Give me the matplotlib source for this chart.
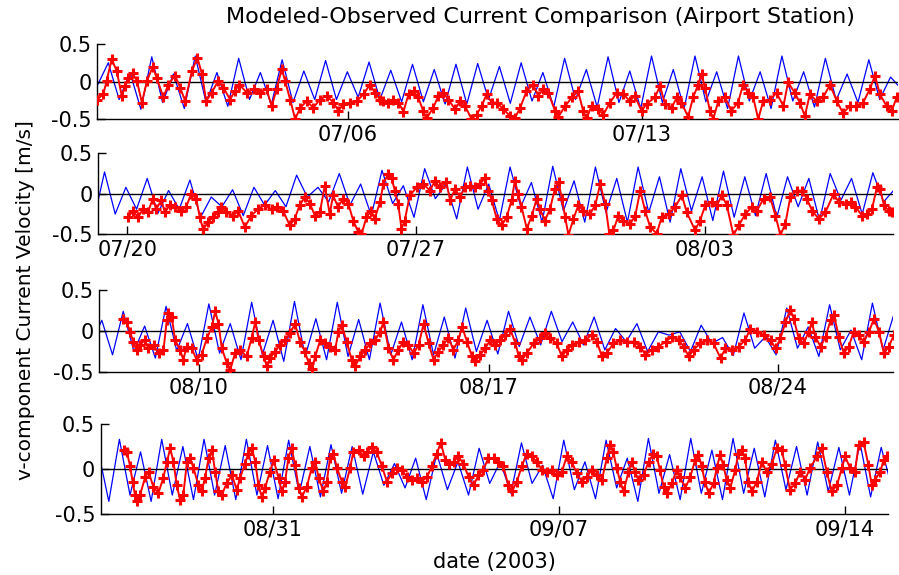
import numpy as np
import pandas as pd
import matplotlib
matplotlib.use('Agg')
import matplotlib.pyplot as plt

plt.rcParams['font.family'] = ['DejaVu Sans']

# time axis: days since 2003-06-30 00:00
base_date = pd.Timestamp('2003-06-30')
half_tide = 0.2588   # half of the M2 period, days

panel_start = [0.02, 19.29, 38.58, 57.79]
panel_end = [19.10, 38.57, 57.78, 77.04]
week_ticks = [6, 13, 20, 27, 34, 41, 48, 55, 62, 69, 76]

# modeled current: successive highs / lows, one every half tide
blue1_start = 0.03
blue1 = [-0.05, 0.25, -0.24, 0.12, -0.37, 0.33, -0.28, 0.10, -0.36, 0.34,
         -0.28, 0.12, -0.33, 0.31, -0.24, 0.12, -0.31, 0.29, -0.28, 0.14,
         -0.24, 0.28, -0.24, 0.13, -0.21, 0.26, -0.24, 0.15, -0.27, 0.23,
         -0.27, 0.16, -0.30, 0.23, -0.30, 0.24, -0.24, 0.20, -0.29, 0.25,
         -0.26, 0.12, -0.34, 0.31, -0.24, 0.16, -0.34, 0.33, -0.28, 0.14,
         -0.36, 0.34, -0.28, 0.16, -0.36, 0.34, -0.27, 0.13, -0.36, 0.34,
         -0.26, 0.13, -0.36, 0.34, -0.26, 0.13, -0.34, 0.31, -0.25, 0.10,
         -0.28, 0.29, -0.24, 0.06, -0.10]
blue2_start = 19.19
blue2 = [-0.32, 0.27, -0.25, 0.08, -0.19, 0.19, -0.24, 0.04, -0.19, 0.17,
         -0.29, -0.04, -0.16, 0.05, -0.27, 0.08, -0.14, 0.04, -0.16, 0.23,
         -0.04, 0.08, -0.10, 0.25, -0.14, 0.12, -0.27, 0.29, -0.12, 0.10,
         -0.29, 0.31, -0.06, 0.12, -0.31, 0.33, -0.19, 0.12, -0.33, 0.33,
         -0.16, 0.14, -0.35, 0.34, -0.21, 0.16, -0.35, 0.33, -0.23, 0.19,
         -0.35, 0.33, -0.23, 0.21, -0.35, 0.31, -0.21, 0.21, -0.33, 0.28,
         -0.29, 0.21, -0.27, 0.25, -0.29, 0.21, -0.16, 0.19, -0.33, 0.25,
         -0.08, 0.19, -0.25, 0.26, -0.10, 0.05]
blue3_start = 38.39
blue3 = [-0.15, 0.13, -0.29, 0.24, -0.25, 0.06, -0.33, 0.30, -0.24, 0.09,
         -0.35, 0.33, -0.27, 0.09, -0.35, 0.35, -0.29, 0.13, -0.37, 0.36,
         -0.31, 0.15, -0.35, 0.35, -0.31, 0.14, -0.35, 0.34, -0.29, 0.11,
         -0.35, 0.32, -0.29, 0.17, -0.33, 0.28, -0.25, 0.13, -0.28, 0.24,
         -0.19, 0.17, -0.17, 0.24, -0.13, 0.11, -0.17, 0.17, -0.23, 0.03,
         -0.13, 0.09, -0.25, -0.01, -0.05, -0.01, -0.25, 0.07, -0.15, -0.08,
         -0.30, 0.22, -0.21, -0.07, -0.29, 0.28, -0.21, 0.05, -0.31, 0.32,
         -0.23, 0.01, -0.35, 0.34, -0.23, 0.20]
blue4_start = 57.73
blue4 = [0.20, -0.36, 0.33, -0.29, 0.19, -0.36, 0.33, -0.29, 0.25, -0.34,
         0.33, -0.29, 0.26, -0.34, 0.33, -0.29, 0.26, -0.33, 0.32, -0.27,
         0.25, -0.31, 0.27, -0.27, 0.25, -0.28, 0.19, -0.18, 0.06, -0.21,
         0.12, -0.34, 0.17, -0.23, 0.08, -0.29, 0.23, -0.16, 0.08, -0.27,
         0.29, -0.16, 0.04, -0.33, 0.32, -0.23, 0.08, -0.33, 0.32, -0.21,
         0.12, -0.36, 0.34, -0.27, 0.16, -0.34, 0.34, -0.27, 0.21, -0.34,
         0.34, -0.27, 0.23, -0.31, 0.32, -0.23, 0.25, -0.29, 0.30, -0.25,
         0.24, -0.29, 0.29, -0.31, 0.24, -0.20]

# observed current (day, m/s)
red1_days = [0.02, 0.17, 0.25, 0.37, 0.49, 0.61, 0.69, 0.77, 0.87, 0.97,
             1.09, 1.21, 1.35, 1.44, 1.60, 1.72, 1.88, 2.00, 2.12, 2.28,
             2.41, 2.52, 2.62, 2.75, 2.91, 3.03, 3.19, 3.31, 3.41, 3.59,
             3.75, 3.90, 4.06, 4.18, 4.30, 4.42, 4.50, 4.62, 4.74, 4.86,
             5.02, 5.17, 5.33, 5.49, 5.65, 5.77, 5.89, 6.05, 6.21, 6.37,
             6.52, 6.64, 6.76, 6.84, 6.96, 7.08, 7.20, 7.32, 7.44, 7.56,
             7.67, 7.79, 7.87, 8.03, 8.15, 8.27, 8.39, 8.55, 8.67, 8.79,
             8.94, 9.06, 9.18, 9.30, 9.42, 9.54, 9.70, 9.86, 9.98, 10.10,
             10.25, 10.41, 10.53, 10.65, 10.77, 10.93, 11.01, 11.17, 11.33, 11.48,
             11.60, 11.68, 11.80, 11.96, 12.08, 12.24, 12.40, 12.56, 12.71, 12.83,
             12.99, 13.11, 13.31, 13.43, 13.55, 13.71, 13.83, 13.94, 14.10, 14.22,
             14.34, 14.42, 14.50, 14.62, 14.70, 14.82, 14.98, 15.13, 15.29, 15.41,
             15.53, 15.65, 15.77, 15.89, 16.05, 16.21, 16.37, 16.48, 16.64, 16.76,
             16.88, 17.00, 17.16, 17.32, 17.48, 17.64, 17.79, 17.95, 18.11, 18.27,
             18.43, 18.55, 18.67, 18.83, 18.95, 19.07]
red1_vals = [-0.24, -0.17, 0.01, 0.30, 0.14, -0.19, -0.06, 0.05, 0.11, 0.01,
             -0.28, 0.01, 0.20, 0.05, -0.21, -0.04, 0.08, -0.08, -0.26, 0.14,
             0.32, 0.10, -0.26, -0.15, 0.01, -0.08, -0.24, -0.12, -0.04, -0.15,
             -0.10, -0.15, -0.10, -0.33, -0.10, 0.17, 0.01, -0.24, -0.50, -0.35,
             -0.26, -0.35, -0.24, -0.19, -0.28, -0.39, -0.30, -0.28, -0.26, -0.17,
             -0.04, -0.15, -0.24, -0.26, -0.28, -0.24, -0.28, -0.40, -0.17, -0.13,
             -0.21, -0.39, -0.49, -0.35, -0.19, -0.15, -0.24, -0.37, -0.26, -0.33,
             -0.50, -0.44, -0.33, -0.17, -0.28, -0.28, -0.37, -0.46, -0.48, -0.35,
             -0.13, -0.04, -0.19, -0.10, -0.15, -0.39, -0.47, -0.33, -0.21, -0.13,
             -0.39, -0.49, -0.33, -0.37, -0.44, -0.28, -0.15, -0.17, -0.26, -0.19,
             -0.39, -0.30, -0.21, -0.06, -0.30, -0.35, -0.21, -0.28, -0.47, -0.21,
             -0.04, 0.10, -0.08, -0.39, -0.50, -0.26, -0.21, -0.39, -0.28, -0.04,
             -0.15, -0.21, -0.50, -0.26, -0.24, -0.15, -0.33, -0.01, -0.15, -0.28,
             -0.46, -0.17, -0.26, -0.21, -0.04, -0.26, -0.42, -0.33, -0.33, -0.28,
             -0.10, 0.08, -0.17, -0.33, -0.39, -0.21]

red2_days = [20.02, 20.14, 20.26, 20.38, 20.50, 20.62, 20.70, 20.83, 20.91, 21.03,
             21.15, 21.31, 21.43, 21.55, 21.67, 21.76, 21.84, 21.96, 22.08, 22.20,
             22.28, 22.40, 22.57, 22.69, 22.85, 23.01, 23.17, 23.33, 23.50, 23.62,
             23.78, 23.94, 24.06, 24.18, 24.31, 24.43, 24.55, 24.67, 24.79, 24.91,
             24.99, 25.11, 25.24, 25.36, 25.48, 25.60, 25.68, 25.80, 25.92, 26.00,
             26.13, 26.21, 26.33, 26.41, 26.49, 26.57, 26.65, 26.73, 26.85, 27.02,
             27.18, 27.34, 27.46, 27.58, 27.74, 27.83, 27.95, 28.07, 28.19, 28.31,
             28.43, 28.55, 28.67, 28.76, 28.84, 28.96, 29.08, 29.20, 29.32, 29.40,
             29.48, 29.56, 29.69, 29.81, 29.93, 30.01, 30.13, 30.25, 30.37, 30.46,
             30.54, 30.62, 30.70, 30.82, 30.94, 31.06, 31.22, 31.35, 31.47, 31.59,
             31.69, 31.79, 31.91, 32.03, 32.20, 32.32, 32.44, 32.56, 32.68, 32.84,
             32.96, 33.13, 33.29, 33.45, 33.57, 33.77, 33.89, 34.02, 34.18, 34.30,
             34.42, 34.54, 34.70, 34.83, 34.99, 35.15, 35.27, 35.43, 35.59, 35.72,
             35.84, 35.96, 36.08, 36.24, 36.36, 36.48, 36.61, 36.77, 36.93, 37.13,
             37.25, 37.42, 37.54, 37.66, 37.82, 37.94, 38.06, 38.18, 38.26, 38.35,
             38.47, 38.55]
red2_vals = [-0.29, -0.21, -0.29, -0.19, -0.23, -0.06, -0.19, -0.08, -0.23, -0.14,
             -0.16, -0.21, -0.16, 0.00, -0.06, -0.29, -0.44, -0.35, -0.29, -0.23,
             -0.16, -0.23, -0.27, -0.21, -0.41, -0.27, -0.19, -0.14, -0.19, -0.16,
             -0.21, -0.39, -0.31, -0.14, -0.04, -0.12, -0.27, -0.23, 0.10, -0.25,
             -0.02, -0.16, -0.06, -0.12, -0.33, -0.47, -0.50, -0.29, -0.21, -0.31,
             -0.10, 0.12, 0.25, 0.19, 0.04, -0.12, -0.43, -0.33, -0.02, 0.08,
             0.12, 0.04, 0.16, 0.08, 0.14, -0.08, 0.06, -0.04, 0.08, 0.10,
             0.08, 0.12, 0.19, 0.04, -0.08, -0.31, -0.39, -0.29, -0.08, 0.16,
             0.00, -0.16, -0.43, -0.27, -0.06, -0.19, -0.33, -0.19, 0.06, 0.14,
             -0.06, -0.29, -0.51, -0.31, -0.14, -0.21, -0.25, -0.14, 0.12, -0.12,
             -0.49, -0.45, -0.27, -0.33, -0.37, -0.27, 0.04, -0.21, -0.41, -0.49,
             -0.29, -0.25, -0.16, -0.02, -0.23, -0.45, -0.33, -0.14, -0.10, -0.14,
             -0.02, -0.14, -0.51, -0.39, -0.25, -0.16, -0.21, -0.06, -0.04, -0.27,
             -0.51, -0.37, -0.04, 0.04, 0.04, -0.06, -0.21, -0.31, -0.23, 0.00,
             -0.10, -0.12, -0.10, -0.16, -0.27, -0.25, -0.19, 0.08, 0.06, -0.14,
             -0.21, -0.23]

red3_days = [39.17, 39.25, 39.33, 39.41, 39.49, 39.57, 39.69, 39.77, 39.90, 40.02,
             40.14, 40.22, 40.26, 40.34, 40.42, 40.54, 40.62, 40.70, 40.82, 40.94,
             41.06, 41.19, 41.31, 41.39, 41.47, 41.55, 41.67, 41.75, 41.87, 41.99,
             42.15, 42.27, 42.36, 42.44, 42.56, 42.64, 42.72, 42.84, 42.96, 43.08,
             43.20, 43.32, 43.44, 43.56, 43.65, 43.73, 43.81, 43.93, 44.05, 44.17,
             44.29, 44.37, 44.45, 44.57, 44.69, 44.77, 44.90, 45.02, 45.14, 45.26,
             45.38, 45.46, 45.58, 45.70, 45.82, 45.94, 46.06, 46.19, 46.31, 46.43,
             46.55, 46.67, 46.79, 46.91, 47.03, 47.15, 47.27, 47.36, 47.48, 47.60,
             47.68, 47.80, 47.92, 48.04, 48.16, 48.28, 48.40, 48.52, 48.65, 48.73,
             48.81, 48.93, 49.09, 49.25, 49.37, 49.49, 49.65, 49.77, 49.90, 50.02,
             50.18, 50.34, 50.50, 50.62, 50.74, 50.86, 51.02, 51.19, 51.35, 51.51,
             51.67, 51.79, 51.95, 52.11, 52.28, 52.44, 52.60, 52.72, 52.84, 52.96,
             53.12, 53.28, 53.44, 53.61, 53.73, 53.89, 54.05, 54.21, 54.33, 54.49,
             54.65, 54.82, 54.94, 55.06, 55.18, 55.30, 55.38, 55.50, 55.62, 55.74,
             55.82, 55.90, 56.03, 56.15, 56.27, 56.35, 56.47, 56.59, 56.71, 56.83,
             56.95, 57.07, 57.20, 57.32, 57.44, 57.56, 57.68, 57.80]
red3_vals = [0.15, 0.11, -0.01, -0.13, -0.23, -0.17, -0.11, -0.21, -0.17, -0.27,
             -0.23, 0.13, 0.22, 0.17, -0.11, -0.23, -0.35, -0.19, -0.21, -0.35,
             -0.29, -0.09, 0.05, 0.24, 0.09, -0.21, -0.39, -0.48, -0.27, -0.23,
             -0.31, -0.09, 0.11, -0.11, -0.31, -0.43, -0.33, -0.25, -0.17, -0.11,
             -0.03, 0.09, -0.13, -0.25, -0.39, -0.46, -0.31, -0.11, -0.15, -0.19,
             -0.23, -0.01, 0.07, -0.13, -0.35, -0.43, -0.31, -0.23, -0.15, -0.11,
             -0.01, 0.11, -0.21, -0.35, -0.23, -0.13, -0.17, -0.27, -0.17, 0.09,
             -0.15, -0.35, -0.25, -0.17, -0.08, -0.23, -0.11, 0.05, -0.13, -0.31,
             -0.37, -0.29, -0.21, -0.11, -0.17, -0.11, -0.05, 0.03, -0.15, -0.31,
             -0.35, -0.27, -0.15, -0.09, -0.03, -0.09, -0.15, -0.31, -0.23, -0.17,
             -0.13, -0.11, -0.05, -0.13, -0.31, -0.27, -0.15, -0.11, -0.13, -0.13,
             -0.19, -0.29, -0.23, -0.19, -0.13, -0.07, -0.11, -0.19, -0.31, -0.23,
             -0.15, -0.11, -0.15, -0.33, -0.21, -0.23, -0.19, -0.11, 0.03, -0.01,
             -0.05, -0.11, -0.21, -0.09, 0.11, 0.26, 0.15, -0.09, -0.15, -0.01,
             0.11, -0.07, -0.19, -0.07, 0.13, 0.20, -0.07, -0.27, -0.19, -0.01,
             -0.05, -0.13, -0.01, 0.15, -0.01, -0.27, -0.19, -0.05]

red4_days = [58.35, 58.43, 58.51, 58.57, 58.63, 58.67, 58.75, 58.88, 58.96, 59.08,
             59.20, 59.32, 59.41, 59.49, 59.57, 59.65, 59.73, 59.81, 59.90, 59.98,
             60.06, 60.18, 60.26, 60.34, 60.43, 60.51, 60.59, 60.67, 60.75, 60.87,
             61.00, 61.12, 61.20, 61.32, 61.40, 61.49, 61.57, 61.65, 61.73, 61.81,
             61.93, 62.02, 62.14, 62.22, 62.30, 62.38, 62.46, 62.55, 62.63, 62.71,
             62.83, 62.95, 63.04, 63.12, 63.24, 63.32, 63.40, 63.48, 63.57, 63.69,
             63.77, 63.89, 63.97, 64.10, 64.22, 64.30, 64.42, 64.54, 64.67, 64.79,
             64.91, 65.03, 65.16, 65.28, 65.40, 65.52, 65.64, 65.77, 65.89, 66.01,
             66.11, 66.22, 66.30, 66.42, 66.54, 66.66, 66.79, 66.91, 67.03, 67.15,
             67.27, 67.40, 67.52, 67.64, 67.76, 67.85, 67.97, 68.09, 68.21, 68.33,
             68.46, 68.58, 68.70, 68.82, 68.95, 69.07, 69.19, 69.31, 69.44, 69.56,
             69.68, 69.80, 69.93, 70.05, 70.17, 70.25, 70.33, 70.41, 70.50, 70.58,
             70.70, 70.78, 70.86, 70.94, 71.07, 71.19, 71.31, 71.39, 71.47, 71.56,
             71.64, 71.76, 71.88, 71.96, 72.09, 72.21, 72.33, 72.41, 72.49, 72.57,
             72.66, 72.78, 72.86, 72.94, 73.02, 73.10, 73.19, 73.31, 73.39, 73.47,
             73.55, 73.63, 73.72, 73.84, 73.96, 74.08, 74.21, 74.33, 74.45, 74.53,
             74.65, 74.78, 74.90, 75.02, 75.14, 75.31, 75.43, 75.55, 75.67, 75.80,
             75.92, 76.00, 76.12, 76.24, 76.33, 76.45, 76.57, 76.65, 76.73, 76.86,
             76.94, 77.02]
red4_vals = [0.21, 0.19, 0.03, -0.14, -0.29, -0.36, -0.29, -0.09, -0.03, -0.20,
             -0.27, -0.10, 0.08, 0.23, 0.08, -0.18, -0.34, -0.29, 0.08, 0.12,
             0.01, -0.18, -0.25, -0.10, 0.12, 0.21, -0.03, -0.25, -0.29, -0.16,
             -0.07, -0.23, -0.10, 0.06, 0.17, 0.23, 0.08, -0.18, -0.31, -0.21,
             -0.03, 0.10, -0.10, -0.25, -0.14, 0.12, 0.23, 0.04, -0.21, -0.31,
             -0.20, 0.01, 0.08, -0.10, -0.25, -0.14, 0.12, 0.17, 0.01, -0.14,
             -0.20, 0.01, 0.19, 0.21, 0.14, 0.19, 0.24, 0.19, 0.03, -0.14,
             -0.05, 0.01, -0.01, -0.09, -0.12, -0.10, -0.14, -0.09, 0.03, 0.17,
             0.29, 0.10, 0.06, 0.08, 0.14, 0.06, -0.09, -0.18, -0.07, -0.01,
             0.12, 0.12, 0.08, 0.03, -0.18, -0.25, -0.14, 0.03, 0.17, 0.14,
             0.08, -0.01, -0.03, -0.01, -0.07, -0.03, 0.14, 0.08, -0.05, -0.14,
             -0.09, -0.01, -0.07, -0.12, 0.12, 0.27, 0.19, 0.01, -0.14, -0.25,
             -0.03, 0.08, -0.03, -0.12, -0.07, 0.08, 0.17, 0.14, -0.01, -0.20,
             -0.27, -0.16, -0.01, -0.09, -0.21, -0.09, 0.10, 0.16, 0.03, -0.14,
             -0.27, -0.16, 0.01, 0.16, 0.04, -0.12, -0.21, -0.01, 0.17, 0.21,
             0.12, -0.14, -0.25, -0.14, 0.08, -0.03, 0.06, 0.23, 0.21, 0.04,
             -0.23, -0.16, -0.03, -0.12, 0.01, 0.14, 0.23, -0.03, -0.25, -0.18,
             0.01, 0.14, 0.01, -0.03, 0.27, 0.30, 0.04, -0.18, -0.12, -0.03,
             0.10, 0.14]

blue_start = [blue1_start, blue2_start, blue3_start, blue4_start]
blue = [blue1, blue2, blue3, blue4]
red_days = [red1_days, red2_days, red3_days, red4_days]
red_vals = [red1_vals, red2_vals, red3_vals, red4_vals]

fig = plt.figure(figsize=(8.99, 5.75), dpi=100)
boxes = [[0.1079, 0.7930, 0.8910, 0.1304],
         [0.1090, 0.5925, 0.8843, 0.1409],
         [0.1101, 0.3530, 0.8832, 0.1427],
         [0.1120, 0.1061, 0.8754, 0.1565]]

for i in range(4):
    ax = fig.add_axes(boxes[i])
    t = blue_start[i] + half_tide * np.arange(len(blue[i]))
    ax.plot(t, blue[i], color='#0000ff', lw=0.9, zorder=2)
    ax.axhline(0, color='k', lw=1.0, zorder=2.5)
    ax.plot(red_days[i], red_vals[i], color='#ff0000', lw=1.4,
            marker='+', ms=6.5, mew=2.2, zorder=3)

    ax.set_xlim(panel_start[i], panel_end[i])
    ax.set_ylim(-0.5, 0.5)
    ticks = [d for d in week_ticks if panel_start[i] <= d <= panel_end[i]]
    ax.set_xticks(ticks)
    ax.set_xticklabels([(base_date + pd.Timedelta(days=d)).strftime('%m/%d') for d in ticks])
    ax.set_yticks([-0.5, 0, 0.5])
    ax.set_yticklabels(['-0.5', '0', '0.5'])
    ax.tick_params(direction='in', length=6, width=1, labelsize=15, pad=4)
    for s in ['top', 'right']:
        ax.spines[s].set_visible(False)
    for s in ['left', 'bottom']:
        ax.spines[s].set_linewidth(1)

fig.text(540 / 899, 1 - 17 / 575, 'Modeled-Observed Current Comparison (Airport Station)',
         ha='center', va='center', fontsize=16)
fig.text(26 / 899, 1 - 300 / 575, 'v-component Current Velocity [m/s]',
         rotation=90, ha='center', va='center', fontsize=14.5)
fig.text(494 / 899, 1 - 562 / 575, 'date (2003)', ha='center', va='center', fontsize=15)

fig.savefig('out.png', dpi=100)
